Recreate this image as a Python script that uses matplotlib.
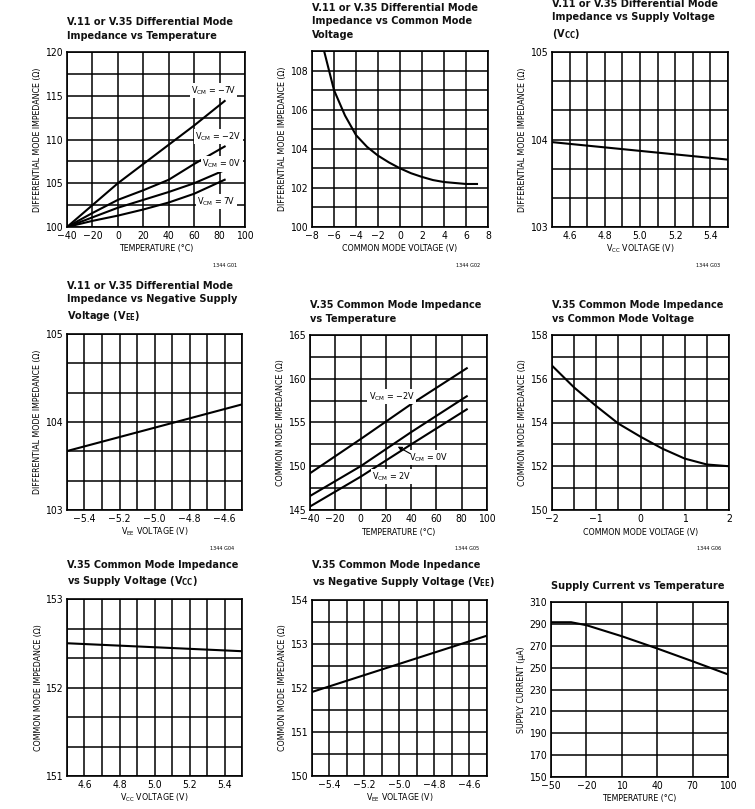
import matplotlib.pyplot as plt
import numpy as np

plt.rcParams['font.family'] = ['DejaVu Sans']
plt.rcParams['font.stretch'] = 'condensed'
plt.rcParams['mathtext.fontset'] = 'custom'
plt.rcParams['mathtext.rm'] = 'DejaVu Sans:stretch=condensed'
plt.rcParams['mathtext.bf'] = 'DejaVu Sans:bold:stretch=condensed'
plt.rcParams['axes.unicode_minus'] = True

# G01 differential impedance vs temperature
g01_temp = [-40, -20, 0, 20, 40, 60, 84]
g01_vcm_m7 = [100, 102.5, 105.0, 107.2, 109.4, 111.6, 114.4]
g01_vcm_m2 = [100, 101.6, 103.1, 104.2, 105.4, 107.2, 109.2]
g01_vcm_0 = [100, 101.1, 102.2, 103.1, 104.0, 105.0, 106.5]
g01_vcm_7 = [100, 100.7, 101.3, 102.0, 102.8, 103.8, 105.4]

# G02 differential impedance vs common mode voltage
g02_vcm = [-6.9, -6, -5, -4, -3, -2, -1, 0, 1, 2, 3, 4, 5, 6, 7]
g02_z = [109.0, 107.0, 105.7, 104.7, 104.1, 103.65, 103.3, 103.0, 102.75,
         102.56, 102.4, 102.3, 102.25, 102.2, 102.2]

# G03 / G04 differential impedance vs supply
g03_vcc = [4.5, 5.5]
g03_z = [103.97, 103.77]
g04_vee = [-5.5, -4.5]
g04_z = [103.67, 104.2]

# G05 common mode impedance vs temperature
g05_temp = [-40, 0, 40, 84]
g05_vcm_m2 = [149.2, 153.1, 157.1, 161.2]
g05_vcm_0 = [146.6, 150.0, 153.9, 158.0]
g05_vcm_2 = [145.4, 148.8, 152.5, 156.5]

# G06 common mode impedance vs common mode voltage
g06_vcm = [-2, -1.5, -1, -0.5, 0, 0.5, 1, 1.5, 2]
g06_z = [156.6, 155.6, 154.75, 153.95, 153.35, 152.8, 152.35, 152.08, 152.0]

# G07 / G08 common mode impedance vs supply
g07_vcc = [4.5, 5.5]
g07_z = [152.5, 152.41]
g08_vee = [-5.5, -4.5]
g08_z = [151.91, 153.19]

# G09 supply current vs temperature
g09_temp = [-50, -33, -20, 10, 40, 70, 100]
g09_current = [291.5, 291.5, 288.8, 278.7, 267.5, 255.8, 243.8]

W, H = 755, 809
fig = plt.figure(figsize=(W / 100, H / 100), dpi=100)


def make_axes(left, top, right, bottom, title, xlabel, ylabel, code=None):
    ax = fig.add_axes([left / W, 1 - bottom / H, (right - left) / W, (bottom - top) / H])
    fig.text(left / W, 1 - (top - 11) / H, title, ha='left', va='bottom',
             fontsize=7.8, fontweight='bold', linespacing=1.45, color='#111111')
    ax.set_xlabel(xlabel, fontsize=6.3, va='center')
    ax.set_ylabel(ylabel, fontsize=6.3, va='center')
    ax.xaxis.set_label_coords(0.5, -22 / (bottom - top))
    ax.yaxis.set_label_coords(-29 / (right - left), 0.5)
    ax.tick_params(which='both', length=0, labelsize=7.5, pad=3)
    for s in ax.spines.values():
        s.set_linewidth(1.2)
    ax.grid(which='both', color='black', linewidth=1.1)
    ax.set_axisbelow(True)
    if code:
        fig.text((right - 8) / W, 1 - (bottom + 38) / H, code, fontsize=4, ha='right', va='center')
    return ax


def label_box(ax, x, y, txt):
    ax.text(x, y, txt, fontsize=6.5, ha='center', va='center',
            bbox=dict(facecolor='white', edgecolor='none', pad=1.0))


# ---------- row 1 ----------
ax = make_axes(67, 52, 245, 227, "V.11 or V.35 Differential Mode\nImpedance vs Temperature",
               "TEMPERATURE (°C)", "DIFFERENTIAL MODE IMPEDANCE (Ω)", "1344 G01")
for ys in (g01_vcm_m7, g01_vcm_m2, g01_vcm_0, g01_vcm_7):
    ax.plot(g01_temp, ys, color='black', lw=1.5)
ax.set_xlim(-40, 100)
ax.set_ylim(100, 120)
ax.set_xticks(np.arange(-40, 101, 20))
ax.set_yticks(np.arange(100, 121, 5))
ax.set_yticks(np.arange(100, 120.1, 2.5), minor=True)
label_box(ax, 75, 115.6, r"V$_{\mathrm{CM}}$ = −7V")
label_box(ax, 79, 110.3, r"V$_{\mathrm{CM}}$ = −2V")
label_box(ax, 82, 107.2, r"V$_{\mathrm{CM}}$ = 0V")
label_box(ax, 77.5, 102.9, r"V$_{\mathrm{CM}}$ = 7V")

ax = make_axes(312, 51, 488, 227,
               "V.11 or V.35 Differential Mode\nImpedance vs Common Mode\nVoltage",
               "COMMON MODE VOLTAGE (V)", "DIFFERENTIAL MODE IMPEDANCE (Ω)", "1344 G02")
ax.plot(g02_vcm, g02_z, color='black', lw=1.5)
ax.set_xlim(-8, 8)
ax.set_ylim(100, 109)
ax.set_xticks(np.arange(-8, 9, 2))
ax.set_yticks(np.arange(100, 109, 2))
ax.set_yticks(np.arange(100, 109.1, 1), minor=True)

ax = make_axes(552, 52, 728, 227,
               "V.11 or V.35 Differential Mode\nImpedance vs Supply Voltage\n(V$_{\\mathbf{CC}}$)",
               r"V$_{\mathrm{CC}}$ VOLTAGE (V)", "DIFFERENTIAL MODE IMPEDANCE (Ω)", "1344 G03")
ax.plot(g03_vcc, g03_z, color='black', lw=1.5)
ax.set_xlim(4.5, 5.5)
ax.set_ylim(103, 105)
ax.set_xticks([4.6, 4.8, 5.0, 5.2, 5.4])
ax.set_xticks(np.arange(4.5, 5.51, 0.1), minor=True)
ax.set_yticks([103, 104, 105])
ax.set_yticks(np.linspace(103, 105, 7), minor=True)

# ---------- row 2 ----------
ax = make_axes(67, 334, 242, 510,
               "V.11 or V.35 Differential Mode\nImpedance vs Negative Supply\nVoltage (V$_{\\mathbf{EE}}$)",
               r"V$_{\mathrm{EE}}$ VOLTAGE (V)", "DIFFERENTIAL MODE IMPEDANCE (Ω)", "1344 G04")
ax.plot(g04_vee, g04_z, color='black', lw=1.5)
ax.set_xlim(-5.5, -4.5)
ax.set_ylim(103, 105)
ax.set_xticks([-5.4, -5.2, -5.0, -4.8, -4.6])
ax.set_xticks(np.arange(-5.5, -4.49, 0.1), minor=True)
ax.set_yticks([103, 104, 105])
ax.set_yticks(np.linspace(103, 105, 7), minor=True)

ax = make_axes(310, 335, 487, 510, "V.35 Common Mode Impedance\nvs Temperature",
               "TEMPERATURE (°C)", "COMMON MODE IMPEDANCE (Ω)", "1344 G05")
for ys in (g05_vcm_m2, g05_vcm_0, g05_vcm_2):
    ax.plot(g05_temp, ys, color='black', lw=1.5)
ax.set_xlim(-40, 100)
ax.set_ylim(145, 165)
ax.set_xticks(np.arange(-40, 101, 20))
ax.set_yticks(np.arange(145, 166, 5))
ax.set_yticks(np.arange(145, 165.1, 2.5), minor=True)
label_box(ax, 24.7, 157.95, r"V$_{\mathrm{CM}}$ = −2V")
label_box(ax, 54, 151.0, r"V$_{\mathrm{CM}}$ = 0V")
label_box(ax, 24.7, 148.8, r"V$_{\mathrm{CM}}$ = 2V")
ax.annotate("", xy=(27.5, 152.4), xytext=(41, 151.3),
            arrowprops=dict(arrowstyle='-|>', color='black', lw=0.8, mutation_scale=6))

ax = make_axes(552, 335, 729, 510, "V.35 Common Mode Impedance\nvs Common Mode Voltage",
               "COMMON MODE VOLTAGE (V)", "COMMON MODE IMPEDANCE (Ω)", "1344 G06")
ax.plot(g06_vcm, g06_z, color='black', lw=1.5)
ax.set_xlim(-2, 2)
ax.set_ylim(150, 158)
ax.set_xticks(np.arange(-2, 2.1, 1))
ax.set_xticks(np.arange(-2, 2.01, 0.5), minor=True)
ax.set_yticks(np.arange(150, 158.1, 2))
ax.set_yticks(np.arange(150, 158.1, 1), minor=True)

# ---------- row 3 ----------
ax = make_axes(67, 599, 242, 776,
               "V.35 Common Mode Impedance\nvs Supply Voltage (V$_{\\mathbf{CC}}$)",
               r"V$_{\mathrm{CC}}$ VOLTAGE (V)", "COMMON MODE IMPEDANCE (Ω)")
ax.plot(g07_vcc, g07_z, color='black', lw=1.5)
ax.set_xlim(4.5, 5.5)
ax.set_ylim(151, 153)
ax.set_xticks([4.6, 4.8, 5.0, 5.2, 5.4])
ax.set_xticks(np.arange(4.5, 5.51, 0.1), minor=True)
ax.set_yticks([151, 152, 153])
ax.set_yticks(np.linspace(151, 153, 7), minor=True)

ax = make_axes(312, 600, 487, 776,
               "V.35 Common Mode Inpedance\nvs Negative Supply Voltage (V$_{\\mathbf{EE}}$)",
               r"V$_{\mathrm{EE}}$ VOLTAGE (V)", "COMMON MODE IMPEDANCE (Ω)")
ax.plot(g08_vee, g08_z, color='black', lw=1.5)
ax.set_xlim(-5.5, -4.5)
ax.set_ylim(150, 154)
ax.set_xticks([-5.4, -5.2, -5.0, -4.8, -4.6])
ax.set_xticks(np.arange(-5.5, -4.49, 0.1), minor=True)
ax.set_yticks([150, 151, 152, 153, 154])
ax.set_yticks(np.arange(150, 154.1, 0.5), minor=True)

ax = make_axes(551, 602, 728, 777, "Supply Current vs Temperature",
               "TEMPERATURE (°C)", "SUPPLY CURRENT (µA)")
ax.plot(g09_temp, g09_current, color='black', lw=1.5)
ax.set_xlim(-50, 100)
ax.set_ylim(150, 310)
ax.set_xticks(np.arange(-50, 101, 30))
ax.set_yticks(np.arange(150, 311, 20))

fig.savefig('out.png', dpi=100, facecolor='white')
